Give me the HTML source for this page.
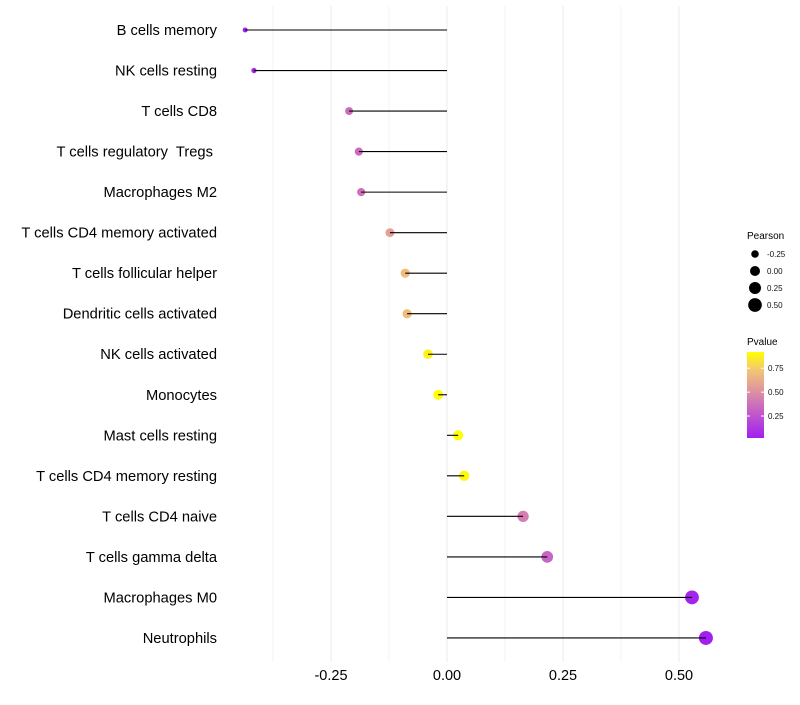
<!DOCTYPE html>
<html><head><meta charset="utf-8"><style>
body{margin:0;background:#fff;font-family:"Liberation Sans",Arial,sans-serif}
svg text{font-family:"Liberation Sans",Arial,sans-serif;white-space:pre}
</style></head><body>
<svg id="chart" width="800" height="700">
<defs><linearGradient id="pg" x1="0" y1="1" x2="0" y2="0">
<stop offset="0" stop-color="#A020F0"/><stop offset="0.3" stop-color="#C45CC8"/><stop offset="0.55" stop-color="#DE93A0"/><stop offset="0.8" stop-color="#F3C870"/><stop offset="1" stop-color="#FFFF00"/>
</linearGradient></defs>
<g id="grid"></g><g id="marks"></g><g id="labels"></g>
<g>
<text x="747" y="239" font-size="10">Pearson</text>
<g id="sizeleg"></g>
<text x="747" y="345" font-size="10">Pvalue</text>
<rect x="747" y="352" width="17" height="86" fill="url(#pg)"/>
<g id="colorleg"></g>
</g>
</svg>
<script>
const categories=["B cells memory","NK cells resting","T cells CD8","T cells regulatory  Tregs ","Macrophages M2","T cells CD4 memory activated","T cells follicular helper","Dendritic cells activated","NK cells activated","Monocytes","Mast cells resting","T cells CD4 memory resting","T cells CD4 naive","T cells gamma delta","Macrophages M0","Neutrophils"];
const pearson=[-0.435,-0.416,-0.211,-0.19,-0.185,-0.123,-0.09,-0.086,-0.041,-0.019,0.024,0.037,0.164,0.216,0.528,0.558];
const pvalue=[0.03,0.04,0.35,0.35,0.37,0.56,0.7,0.7,0.88,0.95,0.92,0.9,0.42,0.32,0.04,0.02];
const xTicks=[-0.25,0,0.25,0.5];
const xTickLabels=["-0.25","0.00","0.25","0.50"];
const sizeLegend=[-0.25,0,0.25,0.5];
const sizeLegendLabels=["-0.25","0.00","0.25","0.50"];
const colorLegend=[0.25,0.5,0.75];
const colorLegendLabels=["0.25","0.50","0.75"];
const NS="http://www.w3.org/2000/svg";
const x=v=>447+v*464;
const y0=30,step=40.53;
const y=i=>y0+i*step;
const pmin=Math.min(...pearson),pmax=Math.max(...pearson);
const r=v=>Math.sqrt(6.25+(v-pmin)/(pmax-pmin)*42.75);
const cmin=0.02,cmax=0.92;
const stops=[[0,[160,32,240]],[0.3,[196,92,200]],[0.55,[226,150,160]],[0.8,[243,195,115]],[1,[255,255,0]]];
function col(p){let t=Math.max(0,Math.min(1,(p-cmin)/(cmax-cmin)));for(let k=1;k<stops.length;k++){if(t<=stops[k][0]){const a=stops[k-1],b=stops[k];const f=(t-a[0])/(b[0]-a[0]);const c=a[1].map((v,j)=>Math.round(v+(b[1][j]-v)*f));return `rgb(${c})`;}}return "rgb(255,255,0)";}
function mk(tag,attrs,parent){const e=document.createElementNS(NS,tag);for(const k in attrs)e.setAttribute(k,attrs[k]);parent.appendChild(e);return e;}
const grid=document.getElementById('grid'),marks=document.getElementById('marks'),labels=document.getElementById('labels');
for(let i=0;i<xTicks.length;i++){
 const g=mk('line',{x1:x(xTicks[i]),x2:x(xTicks[i]),y1:6,y2:662,stroke:'#ebebeb','stroke-width':1},grid);
 
 
 const t=mk('text',{x:x(xTicks[i]),y:680,'font-size':14.5,'text-anchor':'middle',fill:'#000'},labels);
 t.textContent=xTickLabels[i];
 
 
}
for(let i=0;i<xTicks.length;i++){
 const m=mk('line',{x1:x(xTicks[i]-0.125),x2:x(xTicks[i]-0.125),y1:6,y2:662,stroke:'#f3f3f3','stroke-width':1},grid);
 
 
}
categories.forEach((c,i)=>{
 const t=mk('text',{x:217,y:y(i)+5,'font-size':14.7,'text-anchor':'end',fill:'#000'},labels);
 t.textContent=c;
 
 
 const p=mk('circle',{cx:x(pearson[i]),cy:y(i),r:r(pearson[i]),fill:col(pvalue[i])},marks);
 
 
});
categories.forEach((c,i)=>{
 const l=mk('line',{x1:x(0),x2:x(pearson[i]),y1:y(i),y2:y(i),stroke:'#000','stroke-width':1.1},marks);
 
 
});
const sl=document.getElementById('sizeleg');
sizeLegend.forEach((v,i)=>{
 const cy=254+i*17;
 const d=mk('circle',{cx:755,cy:cy,r:r(v),fill:'#000'},sl);
 
 
 const t=mk('text',{x:767,y:cy+3,'font-size':8,fill:'#111'},sl);
 t.textContent=sizeLegendLabels[i];
 
 
});
const cl=document.getElementById('colorleg');
colorLegend.forEach((v,i)=>{
 const cy=438-(v-cmin)/(cmax-cmin)*86;
 const tk=mk('line',{x1:747,x2:750,y1:cy,y2:cy,stroke:'#fff','stroke-width':1},cl);
 
 
 const tk2=mk('line',{x1:761,x2:764,y1:cy,y2:cy,stroke:'#fff','stroke-width':1},cl);
 
 
 const t=mk('text',{x:768,y:cy+3,'font-size':8,fill:'#111'},cl);
 t.textContent=colorLegendLabels[i];
 
 
});
</script>
</body></html>
